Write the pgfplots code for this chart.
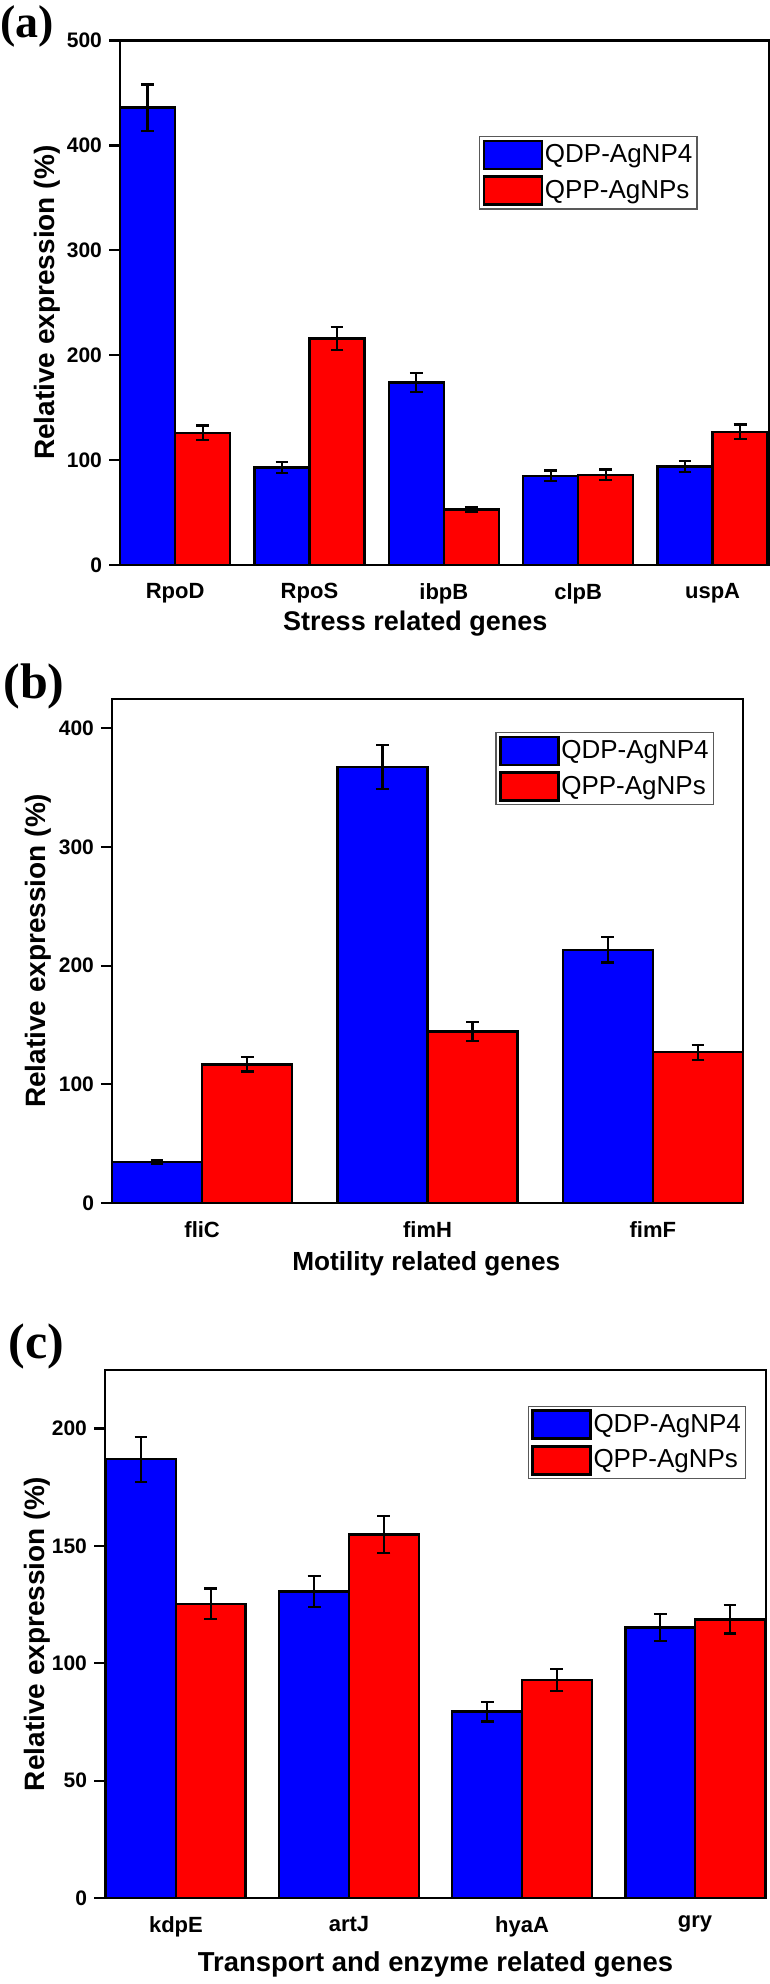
\documentclass[border=0pt]{standalone}
\usepackage{pgfplots}
\pgfplotsset{compat=1.18}
\usepackage{fontspec}
\setmainfont{Liberation Sans}
\newfontfamily\panelfont{Liberation Serif}

\pgfplotsset{
  common/.style={
    scale only axis,
    ybar,
    anchor=south west,
    axis line style={line width=1.1pt, black},
    ymin=0,
    ytick pos=left,
    tick align=outside,
    major tick length=5.5pt,
    tick style={line width=1.1pt, black},
    major x tick style={draw=none},
    /pgf/number format/assume math mode=true,
    y tick label style={font=\bfseries\fontsize{10.5}{12}\selectfont},
    x tick label style={font=\bfseries\fontsize{11}{12}\selectfont},
    x label style={anchor=center, font=\bfseries\fontsize{13.5}{15}\selectfont},
    y label style={anchor=center, font=\bfseries\fontsize{14}{15}\selectfont},
    error bars/y dir=both,
    error bars/y explicit,
    error bars/error bar style={line width=1.1pt, black},
    error bars/error mark options={rotate=90, mark size=3.2pt, line width=1.1pt, black},
    legend image code/.code={\draw[##1, line width=1.3pt, draw=black] (0pt,-7pt) rectangle (29pt,7pt);},
    legend cell align=left,
    legend style={draw=black!65, line width=0.7pt, inner xsep=1.5pt, inner ysep=1.5pt,
      row sep=2.5pt, anchor=north east,
      nodes={inner sep=0.8pt},
      font=\fontsize{13}{15}\selectfont,
      /tikz/every even column/.style={column sep=3pt}},
    ylabel={Relative expression (\%)},
  },
  blueb/.style={fill=blue, draw=black, line width=1.2pt, bar shift=0pt},
  redb/.style={fill=red, draw=black, line width=1.2pt, bar shift=0pt},
}

\begin{document}
\begin{tikzpicture}
\useasboundingbox (0,0) rectangle (385pt,-992pt);

% ---------------- (a)
\begin{axis}[common,
  at={(60pt,-282.5pt)}, width=324.5pt, height=262.25pt,
  xmin=-0.41, xmax=4.42, ymax=500, ytick={0,100,200,300,400,500},
  xtick={0,1,2,3,4}, xticklabels={RpoD,RpoS,ibpB,clpB,uspA},
  bar width=0.41,
  xlabel={Stress related genes},
  x label style={at={(axis description cs:0.455,0)}, yshift=-29.5pt},
  y label style={at={(axis description cs:-0.1125,0.5)}},
  legend style={at={(axis description cs:0.89,0.818)}},
]
\addplot[blueb] coordinates {(-0.205,436) +- (0,22) (0.795,93) +- (0,5) (1.795,174) +- (0,9) (2.795,85) +- (0,5) (3.795,94) +- (0,5)};
\addplot[redb] coordinates {(0.205,126) +- (0,7) (1.205,216) +- (0,11) (2.205,53) +- (0,2) (3.205,86) +- (0,5) (4.205,127) +- (0,7)};
\legend{QDP-AgNP4,QPP-AgNPs}
\end{axis}

% ---------------- (b)
\begin{axis}[common,
  at={(56pt,-601.5pt)}, width=315.5pt, height=252.2pt,
  xmin=-0.4, xmax=2.4, ymax=425, ytick={0,100,200,300,400},
  xtick={0,1,2}, xticklabels={fliC,fimH,fimF},
  bar width=0.4,
  xlabel={Motility related genes},
  x label style={at={(axis description cs:0.498,0)}, yshift=-30.5pt, font=\bfseries\fontsize{13.1}{15}\selectfont},
  y label style={at={(axis description cs:-0.117,0.5)}},
  legend style={at={(axis description cs:0.954,0.934)}},
]
\addplot[blueb] coordinates {(-0.2,34.6) +- (0,1.5) (0.8,367.5) +- (0,18.6) (1.8,213.2) +- (0,10.6)};
\addplot[redb] coordinates {(0.2,116.8) +- (0,6) (1.2,144.5) +- (0,7.7) (2.2,127) +- (0,6.4)};
\legend{QDP-AgNP4,QPP-AgNPs}
\end{axis}

% ---------------- (c)
\begin{axis}[common,
  at={(52.5pt,-949pt)}, width=330.5pt, height=264.15pt,
  xmin=-0.41, xmax=3.41, ymax=225, ytick={0,50,100,150,200},
  xtick={0,1,2,3}, xticklabels={kdpE,artJ,hyaA,gry},
  bar width=0.403,
  xlabel={Transport and enzyme related genes},
  x label style={at={(axis description cs:0.5,0)}, yshift=-33pt, font=\bfseries\fontsize{13.7}{15}\selectfont},
  y label style={at={(axis description cs:-0.103,0.5)}},
  legend style={at={(axis description cs:0.97,0.932)}},
]
\addplot[blueb] coordinates {(-0.2015,186.9) +- (0,9.6) (0.7985,130.5) +- (0,6.6) (1.7985,79.4) +- (0,4.2) (2.7985,115.2) +- (0,5.8)};
\addplot[redb] coordinates {(0.2015,125.3) +- (0,6.5) (1.2015,154.8) +- (0,8) (2.2015,92.9) +- (0,4.8) (3.2015,118.7) +- (0,6)};
\legend{QDP-AgNP4,QPP-AgNPs}
\end{axis}

\node[anchor=north west, inner sep=0pt, font=\panelfont\bfseries\fontsize{23}{25}\selectfont] at (0pt,-2.5pt) {(a)};
\node[anchor=north west, inner sep=0pt, font=\panelfont\bfseries\fontsize{25}{27}\selectfont] at (1.5pt,-331.5pt) {(b)};
\node[anchor=north west, inner sep=0pt, font=\panelfont\bfseries\fontsize{25}{27}\selectfont] at (4pt,-661.5pt) {(c)};
\end{tikzpicture}
\end{document}
